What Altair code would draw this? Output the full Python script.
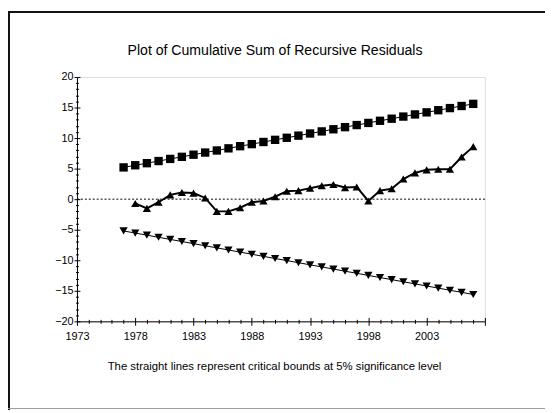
import altair as alt
import pandas as pd

# ---- data ----
bound_years = list(range(1977, 2008))
upper_bound = [5.20, 5.55, 5.89, 6.24, 6.59, 6.93, 7.28, 7.63, 7.97, 8.32, 8.67,
               9.01, 9.36, 9.71, 10.05, 10.40, 10.75, 11.09, 11.44, 11.79, 12.13,
               12.48, 12.83, 13.17, 13.52, 13.87, 14.21, 14.56, 14.91, 15.25, 15.60]
lower_bound = [-5.20, -5.55, -5.89, -6.24, -6.59, -6.93, -7.28, -7.63, -7.97, -8.32, -8.67,
               -9.01, -9.36, -9.71, -10.05, -10.40, -10.75, -11.09, -11.44, -11.79, -12.13,
               -12.48, -12.83, -13.17, -13.52, -13.87, -14.21, -14.56, -14.91, -15.25, -15.60]
cusum_years = list(range(1978, 2008))
cusum = [-0.7, -1.5, -0.5, 0.7, 1.1, 1.0, 0.2, -2.0, -2.0, -1.4,
         -0.5, -0.3, 0.4, 1.3, 1.4, 1.8, 2.2, 2.4, 1.9, 2.0,
         -0.3, 1.4, 1.7, 3.3, 4.3, 4.8, 4.9, 4.9, 6.9, 8.6]

x_tick_values = list(range(1973, 2009))
y_tick_values = list(range(-20, 21))

title_text = "Plot of Cumulative Sum of Recursive Residuals"
footer_text = "The straight lines represent critical bounds at 5% significance level"

FONT = "Liberation Sans, Arial, sans-serif"
W, H = 414, 248
PAD_L, PAD_T, PAD_R, PAD_B = 70, 67, 61, 90

bounds_df = pd.DataFrame({"year": bound_years, "upper": upper_bound, "lower": lower_bound})
cusum_df = pd.DataFrame({"year": cusum_years, "cusum": cusum})
zero_df = pd.DataFrame({"x": [1973], "x2": [2008], "y": [0]})

x_scale = alt.Scale(domain=[1973, 2008], nice=False, zero=False)
y_scale = alt.Scale(domain=[-20, 20], nice=False, zero=False)

x_major_test = "(datum.value - 1973) % 5 === 0 || datum.value === 2008"
y_major_test = "datum.value % 5 === 0"

x_axis_main = alt.Axis(
    orient="bottom", values=x_tick_values, format="d", grid=False,
    labelExpr="(datum.value - 1973) % 5 === 0 && datum.value < 2008 ? datum.label : ''",
    labelOverlap=False, labelFlush=False,
    tickSize={"condition": {"test": x_major_test, "value": 4}, "value": 2},
    tickColor="black", domainColor="black", labelColor="black",
    labelFont=FONT, labelFontSize=11, labelPadding=5,
    title=footer_text, titleFont=FONT, titleFontSize=11.5, titleFontWeight="normal",
    titleColor="black", titleX=200, titleY=49, titleAlign="center",
    titleBaseline="alphabetic",
)
y_axis_main = alt.Axis(
    orient="left", values=y_tick_values, grid=False,
    labelExpr="datum.value % 5 === 0 ? datum.label : ''",
    labelOverlap=False, labelFlush=False,
    tickSize={"condition": {"test": y_major_test, "value": 3}, "value": 1.5},
    tickColor="black", domainColor="black", labelColor="black",
    labelFont=FONT, labelFontSize=11, labelPadding=1,
    title=None,
)
x_axis_in = alt.Axis(
    orient="top", offset=-H, values=x_tick_values, labels=False, domain=False,
    grid=False, title=None, tickColor="black",
    tickSize={"condition": {"test": x_major_test, "value": 4}, "value": 2},
)
y_axis_in = alt.Axis(
    orient="right", offset=-W, values=y_tick_values, labels=False, domain=False,
    grid=False, title=None, tickColor="black",
    tickSize={"condition": {"test": y_major_test, "value": 3}, "value": 1.5},
)

base_b = alt.Chart(bounds_df)
base_c = alt.Chart(cusum_df)

zero_rule = alt.Chart(zero_df).mark_rule(color="black", strokeWidth=1, strokeDash=[2, 2]).encode(
    x=alt.X("x:Q", scale=x_scale, axis=x_axis_main),
    x2="x2:Q",
    y=alt.Y("y:Q", scale=y_scale, axis=y_axis_main),
)

inward = alt.Chart(zero_df).mark_point(opacity=0).encode(
    x=alt.X("x:Q", scale=x_scale, axis=x_axis_in),
    y=alt.Y("y:Q", scale=y_scale, axis=y_axis_in),
)

def xy(field):
    return dict(x=alt.X("year:Q", scale=x_scale, axis=None),
                y=alt.Y(f"{field}:Q", scale=y_scale, axis=None))

upper_line = base_b.mark_line(color="black", strokeWidth=1).encode(**xy("upper"))
upper_pts = base_b.mark_point(shape="square", filled=True, size=72, color="black",
                              opacity=1).encode(**xy("upper"))
lower_line = base_b.mark_line(color="black", strokeWidth=1).encode(**xy("lower"))
lower_pts = base_b.mark_point(shape="triangle-down", filled=True, size=70, color="black",
                              opacity=1).encode(**xy("lower"))
cusum_line = base_c.mark_line(color="black", strokeWidth=2).encode(**xy("cusum"))
cusum_pts = base_c.mark_point(shape="triangle-up", filled=True, size=70, color="black",
                              opacity=1).encode(**xy("cusum"))

one = alt.Data(values=[{"k": 1}])
title_mark = alt.Chart(one).mark_text(
    text=title_text, font=FONT, fontSize=14.3, color="black",
    align="center", baseline="alphabetic",
).encode(x=alt.value(201), y=alt.value(-22))

frame_top = alt.Chart(one).mark_rule(color="#111", strokeWidth=2).encode(
    x=alt.value(-PAD_L), x2=alt.value(W + PAD_R), y=alt.value(-PAD_T + 1))
frame_left = alt.Chart(one).mark_rule(color="#111", strokeWidth=2).encode(
    x=alt.value(-PAD_L + 1), y=alt.value(-PAD_T), y2=alt.value(H + PAD_B))
frame_bottom = alt.Chart(one).mark_rule(color="#9a9a9a", strokeWidth=1).encode(
    x=alt.value(-PAD_L), x2=alt.value(W + PAD_R), y=alt.value(H + PAD_B - 1.5))

chart = alt.layer(
    zero_rule, inward, upper_line, upper_pts, lower_line, lower_pts,
    cusum_line, cusum_pts, title_mark, frame_top, frame_left, frame_bottom,
).resolve_axis(
    x="independent", y="independent"
).properties(
    width=W, height=H,
    autosize=alt.AutoSizeParams(type="none"),
    padding={"left": PAD_L, "top": PAD_T, "right": PAD_R, "bottom": PAD_B},
).configure_view(stroke=None).configure(background="white")

chart.save("out.html", embed_options={"renderer": "svg", "actions": False})
